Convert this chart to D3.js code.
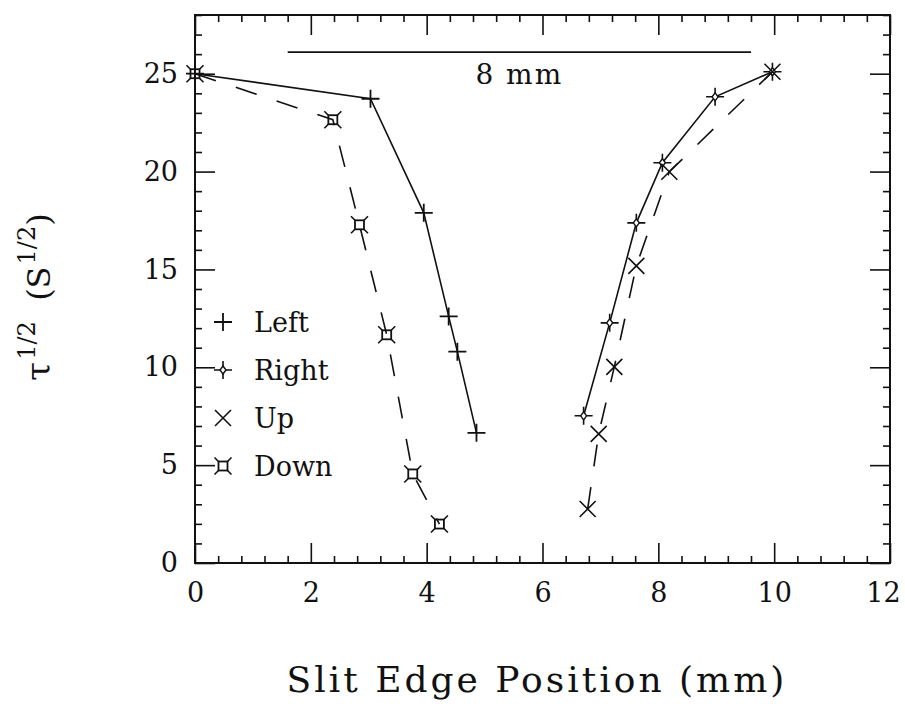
<!DOCTYPE html>
<html>
<head>
    <meta charset="utf-8">
    <script src="https://d3js.org/d3.v7.min.js"></script>
    <style>
        body { margin: 0; background: #fff; }
        text { font-family: 'DejaVu Serif', serif; fill: #111; }
        .tick line { stroke: #111; stroke-width: 1.6; }
    </style>
</head>
<body>
<div id="chart"></div>
<script>
    // data
    var leftX  = [0, 3.03, 3.95, 4.38, 4.53, 4.86];
    var leftY  = [25, 23.72, 17.89, 12.6, 10.8, 6.65];
    var rightX = [6.71, 7.16, 7.62, 8.07, 8.98, 9.97];
    var rightY = [7.52, 12.27, 17.38, 20.45, 23.82, 25.1];
    var upX    = [6.78, 6.97, 7.24, 7.62, 8.19, 9.97];
    var upY    = [2.76, 6.6, 10.02, 15.18, 19.99, 25.1];
    var downX  = [0, 2.38, 2.84, 3.31, 3.76, 4.22];
    var downY  = [25, 22.65, 17.28, 11.66, 4.55, 1.99];

    var seriesNames = ["Left", "Right", "Up", "Down"];
    var xMajorTicks = [0, 2, 4, 6, 8, 10, 12];
    var yMajorTicks = [0, 5, 10, 15, 20, 25];
    var barX = [1.6, 9.6], barY = 26.1, barLabel = "8 mm";

    var width = 905, height = 706;
    var margin = { left: 195, right: 890, top: 15, bottom: 563 };

    var svg = d3.select("#chart").append("svg")
        .attr("width", width)
        .attr("height", height);

    var x = d3.scaleLinear().domain([0, 12]).range([margin.left, margin.right]);
    var y = d3.scaleLinear().domain([0, 28]).range([margin.bottom, margin.top]);

    var xMinor = d3.range(0, 12.001, 0.4).filter(function (v) { return Math.abs(v / 2 - Math.round(v / 2)) > 0.01; });
    var yMinor = d3.range(0, 28.001, 1).filter(function (v) { return v % 5 != 0; });

    // axes: ticks on all four sides, pointing inward
    function addAxis(gen, tx, ty, vals, size, labels, pad) {
        var g = svg.append("g")
            .attr("transform", "translate(" + tx + "," + ty + ")")
            .call(gen.tickValues(vals).tickSize(size).tickPadding(pad)
                .tickFormat(labels ? d3.format("d") : ""));
        g.select(".domain").remove();
        g.selectAll("text").style("font-size", "27px");
        return g;
    }
    var xAxisG = addAxis(d3.axisBottom(x), 0, margin.bottom, xMajorTicks, -20, true, 20);
    // keep the last label inside the page
    xAxisG.selectAll("text").filter(function (d) { return d == 12; }).attr("dx", -7);
    addAxis(d3.axisBottom(x), 0, margin.bottom, xMinor, -7, false, 0);
    addAxis(d3.axisTop(x), 0, margin.top, xMajorTicks, -20, false, 0);
    addAxis(d3.axisTop(x), 0, margin.top, xMinor, -7, false, 0);
    addAxis(d3.axisLeft(y), margin.left, 0, yMajorTicks, -20, true, 17);
    addAxis(d3.axisLeft(y), margin.left, 0, yMinor, -7, false, 0);
    addAxis(d3.axisRight(y), margin.right, 0, yMajorTicks, -20, false, 0);
    addAxis(d3.axisRight(y), margin.right, 0, yMinor, -7, false, 0);

    svg.append("rect")
        .attr("x", margin.left).attr("y", margin.top)
        .attr("width", margin.right - margin.left).attr("height", margin.bottom - margin.top)
        .attr("fill", "none").attr("stroke", "#111").attr("stroke-width", 2);

    // markers
    function drawMarker(g, type) {
        var s = "#111";
        if (type == "Left") {
            g.append("path").attr("d", "M-9,0H9M0,-9V9").attr("stroke", s).attr("stroke-width", 1.8);
        } else if (type == "Right") {
            g.append("path").attr("d", "M-9,0H9M0,-9V9").attr("stroke", s).attr("stroke-width", 1.6);
            g.append("path").attr("d", "M0,-4L3,0L0,4L-3,0Z").attr("stroke", s).attr("stroke-width", 1.4).attr("fill", "#fff");
        } else if (type == "Up") {
            g.append("path").attr("d", "M-8,-8L8,8M-8,8L8,-8").attr("stroke", s).attr("stroke-width", 1.6);
        } else {
            g.append("rect").attr("x", -4.5).attr("y", -4.5).attr("width", 9).attr("height", 9)
                .attr("fill", "none").attr("stroke", s).attr("stroke-width", 1.8);
            g.append("path").attr("d", "M-4.5,-4.5l-4,-4M4.5,-4.5l4,-4M-4.5,4.5l-4,4M4.5,4.5l4,4")
                .attr("stroke", s).attr("stroke-width", 1.6);
        }
    }

    var line = d3.line()
        .x(function (d) { return x(d[0]); })
        .y(function (d) { return y(d[1]); });

    var series = [
        { name: "Left", xs: leftX, ys: leftY, dash: null },
        { name: "Right", xs: rightX, ys: rightY, dash: null },
        { name: "Up", xs: upX, ys: upY, dash: "22,21" },
        { name: "Down", xs: downX, ys: downY, dash: "22,21" }
    ];

    series.forEach(function (sr) {
        var pts = d3.zip(sr.xs, sr.ys);
        svg.append("path")
            .attr("d", line(pts))
            .attr("fill", "none")
            .attr("stroke", "#111")
            .attr("stroke-width", 1.6)
            .attr("stroke-dasharray", sr.dash);
        pts.forEach(function (p) {
            var g = svg.append("g").attr("transform", "translate(" + x(p[0]) + "," + y(p[1]) + ")");
            drawMarker(g, sr.name);
        });
    });

    // legend
    seriesNames.forEach(function (name, i) {
        var ly = 322 + i * 48;
        var g = svg.append("g").attr("transform", "translate(223," + ly + ")");
        drawMarker(g, name);
        svg.append("text")
            .attr("x", 254).attr("y", ly)
            .attr("dy", "0.36em")
            .style("font-size", "27px")
            .text(name);
    });

    // 8 mm scale bar
    svg.append("line")
        .attr("x1", x(barX[0])).attr("x2", x(barX[1]))
        .attr("y1", y(barY)).attr("y2", y(barY))
        .attr("stroke", "#111").attr("stroke-width", 1.8);
    svg.append("text")
        .attr("x", x((barX[0] + barX[1]) / 2))
        .attr("y", y(24.45))
        .attr("text-anchor", "middle")
        .style("font-size", "28px")
        .style("letter-spacing", "2px")
        .text(barLabel);

    // axis titles
    svg.append("text")
        .attr("x", 537).attr("y", 692)
        .attr("text-anchor", "middle")
        .style("font-size", "36px")
        .style("letter-spacing", "3px")
        .text("Slit Edge Position (mm)");

    var yt = svg.append("text")
        .attr("transform", "translate(50,297) rotate(-90)")
        .attr("text-anchor", "middle")
        .style("font-size", "32px");
    yt.append("tspan").style("font-size", "34px").text("\u03c4");
    yt.append("tspan").attr("dy", -15).attr("dx", 2).style("font-size", "24px").text("1/2");
    yt.append("tspan").attr("dy", 15).text("\u00a0\u00a0(S");
    yt.append("tspan").attr("dy", -15).attr("dx", 2).style("font-size", "24px").text("1/2");
    yt.append("tspan").attr("dy", 15).text(")");
</script>
</body>
</html>
